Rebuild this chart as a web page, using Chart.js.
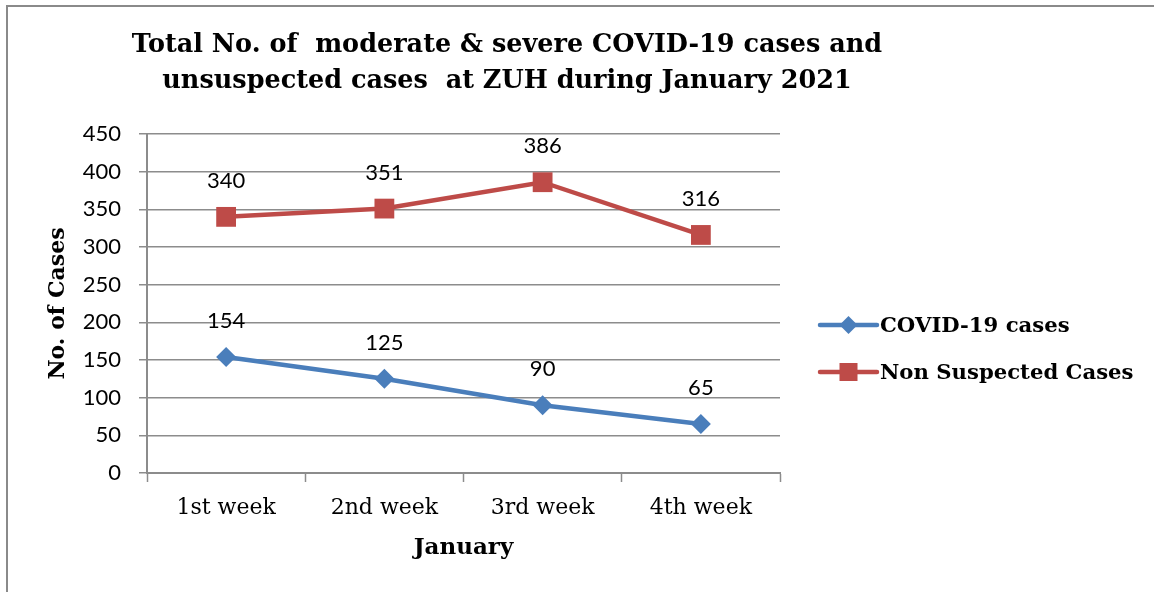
<!DOCTYPE html>
<html>
<head>
<meta charset="utf-8">
<script src="https://cdn.jsdelivr.net/npm/chart.js@4/dist/chart.umd.min.js"></script>
<style>
  html, body { margin: 0; padding: 0; background: #fff; }
  #wrap { position: relative; width: 1154px; height: 592px; overflow: hidden; }
  #frame { position: absolute; left: 6px; top: 5px; width: 1300px; height: 700px;
           border-top: 2px solid #8a8a8a; border-left: 2px solid #8a8a8a; }
  canvas { position: absolute; left: 0; top: 0; }
</style>
</head>
<body>
<div id="wrap">
  <div id="frame"></div>
  <canvas id="chart"></canvas>
</div>
<script>
const weeks = ["1st week", "2nd week", "3rd week", "4th week"];
const covidCases = [154, 125, 90, 65];
const nonSuspected = [340, 351, 386, 316];
const seriesNames = ["COVID-19 cases", "Non Suspected Cases"];
const titleLines = [
  "Total No. of  moderate & severe COVID-19 cases and",
  "unsuspected cases  at ZUH during January 2021"
];

const colors = { blue: "#4a7ebb", red: "#be4b48", grid: "#8c8c8c" };
const serifBold = "bold 25.5px 'DejaVu Serif'";

// title, value labels and legend drawn on top of the chart
const extras = {
  id: "extras",
  afterDatasetsDraw(chart) {
    const ctx = chart.ctx;
    ctx.save();
    ctx.fillStyle = "#000";
    ctx.textAlign = "center";
    ctx.textBaseline = "middle";
    ctx.font = "22px Lato";
    chart.data.datasets.forEach((ds, i) => {
      chart.getDatasetMeta(i).data.forEach((pt, j) => {
        ctx.fillText(String(ds.data[j]), pt.x, pt.y - 36);
      });
    });
    ctx.restore();
  },
  afterDraw(chart) {
    const ctx = chart.ctx;
    const area = chart.chartArea;
    ctx.save();
    ctx.fillStyle = "#000";
    ctx.textAlign = "center";
    ctx.textBaseline = "alphabetic";
    ctx.font = serifBold;
    ctx.fillText(titleLines[0], 507, 52);
    ctx.fillText(titleLines[1], 507, 88);

    // legend
    const rows = [325, 372];
    chart.data.datasets.forEach((ds, i) => {
      const y = rows[i];
      const x0 = area.right + 40, x1 = area.right + 97;
      ctx.strokeStyle = ds.borderColor;
      ctx.lineWidth = 4.5;
      ctx.lineCap = "round";
      ctx.beginPath();
      ctx.moveTo(x0, y);
      ctx.lineTo(x1, y);
      ctx.stroke();
      ctx.fillStyle = ds.borderColor;
      const cx = (x0 + x1) / 2;
      if (ds.pointStyle === "rectRot") {
        ctx.beginPath();
        ctx.moveTo(cx - 9, y);
        ctx.lineTo(cx, y - 9);
        ctx.lineTo(cx + 9, y);
        ctx.lineTo(cx, y + 9);
        ctx.closePath();
        ctx.fill();
      } else {
        ctx.fillRect(cx - 9, y - 9, 18, 18);
      }
      ctx.fillStyle = "#000";
      ctx.textAlign = "left";
      ctx.textBaseline = "middle";
      ctx.font = "bold 21.2px 'DejaVu Serif'";
      ctx.fillText(ds.label, x1 + 3, y + 1);
    });
    ctx.restore();
  }
};

new Chart(document.getElementById("chart"), {
  type: "line",
  data: {
    labels: weeks,
    datasets: [
      {
        label: seriesNames[0],
        data: covidCases,
        borderColor: colors.blue,
        backgroundColor: colors.blue,
        borderWidth: 4.5,
        pointStyle: "rectRot",
        pointRadius: 10,
        pointBorderWidth: 0,
        tension: 0
      },
      {
        label: seriesNames[1],
        data: nonSuspected,
        borderColor: colors.red,
        backgroundColor: colors.red,
        borderWidth: 4.5,
        pointStyle: "rect",
        pointRadius: 14,
        pointBorderWidth: 0,
        tension: 0
      }
    ]
  },
  options: {
    responsive: true,
    maintainAspectRatio: false,
    animation: false,
    layout: { padding: { top: 134, left: 7, right: 374, bottom: 19 } },
    plugins: {
      legend: { display: false },
      title: { display: false },
      tooltip: { enabled: false }
    },
    scales: {
      x: {
        offset: true,
        grid: {
          offset: true,
          drawOnChartArea: false,
          drawTicks: true,
          tickLength: 9,
          tickColor: colors.grid,
          tickWidth: 1.5
        },
        border: { display: true, color: colors.grid, width: 2 },
        ticks: {
          color: "#000",
          padding: 13,
          font: { family: "'DejaVu Serif'", size: 22 }
        },
        title: {
          display: true,
          text: "January",
          color: "#000",
          padding: { top: 0, bottom: 11 },
          font: { family: "'DejaVu Serif'", size: 23, weight: "bold" }
        },
        afterFit(axis) { axis.height = 100; }
      },
      y: {
        min: 0,
        max: 450,
        ticks: {
          stepSize: 50,
          color: "#000",
          padding: 18,
          font: { family: "Lato", size: 22 }
        },
        grid: {
          color: colors.grid,
          lineWidth: 1.5,
          drawTicks: true,
          tickLength: 8
        },
        border: { display: true, color: colors.grid, width: 2 },
        title: {
          display: true,
          text: "No. of Cases",
          color: "#000",
          padding: { top: 38, bottom: 0 },
          font: { family: "'DejaVu Serif'", size: 22, weight: "bold" }
        },
        afterFit(axis) { axis.width = 140; }
      }
    }
  },
  plugins: [extras]
});
</script>
</body>
</html>
